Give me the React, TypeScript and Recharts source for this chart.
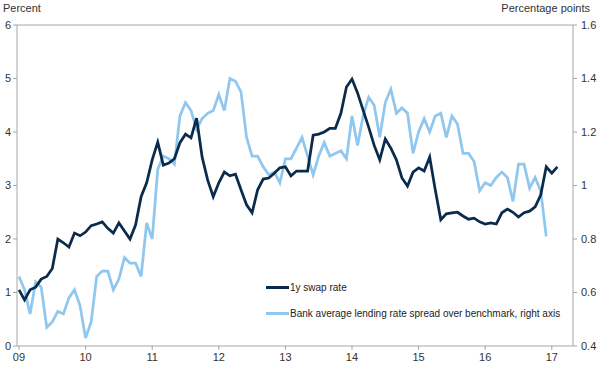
import { LineChart, Line, XAxis, YAxis, ReferenceLine } from 'recharts';

// monthly, Jan 2009 onwards
const yearTicks = [0, 12, 24, 36, 48, 60, 72, 84, 96];
const yearLabels = ['09', '10', '11', '12', '13', '14', '15', '16', '17'];

const leftTicks = [0, 1, 2, 3, 4, 5, 6];
const rightTicks = [0.4, 0.6, 0.8, 1.0, 1.2, 1.4, 1.6];

// 1y swap rate, percent (left axis)
const swapRate = [
  1.05, 0.86, 1.05, 1.1, 1.25, 1.3, 1.45, 2.0, 1.93, 1.85,
  2.11, 2.06, 2.13, 2.25, 2.28, 2.32, 2.2, 2.11, 2.3, 2.15,
  2.0, 2.26, 2.79, 3.05, 3.48, 3.81, 3.38, 3.42, 3.5, 3.8,
  3.96, 3.89, 4.26, 3.53, 3.1, 2.79, 3.05, 3.25, 3.18, 3.21,
  2.92, 2.64, 2.49, 2.92, 3.12, 3.14, 3.23, 3.33, 3.35, 3.18,
  3.27, 3.27, 3.27, 3.94, 3.96, 4.0, 4.07, 4.07, 4.35, 4.84,
  4.99, 4.73, 4.41, 4.09, 3.75, 3.48, 3.87, 3.7, 3.48, 3.14,
  2.99, 3.25, 3.33, 3.27, 3.53, 2.92, 2.36, 2.47, 2.49, 2.5,
  2.43, 2.37, 2.39, 2.32, 2.28, 2.3, 2.28, 2.49, 2.56, 2.5,
  2.41, 2.49, 2.52, 2.6, 2.82, 3.35, 3.23, 3.35,
];

// lending rate spread over benchmark, percentage points (right axis)
const lendingSpread = [
  0.66, 0.61, 0.52, 0.64, 0.62, 0.47, 0.49, 0.53, 0.52, 0.58,
  0.61, 0.55, 0.43, 0.49, 0.66, 0.68, 0.68, 0.61, 0.65, 0.73,
  0.71, 0.71, 0.66, 0.86, 0.8, 1.06, 1.11, 1.1, 1.08, 1.26,
  1.31, 1.28, 1.21, 1.25, 1.27, 1.28, 1.34, 1.28, 1.4, 1.39,
  1.35, 1.18, 1.11, 1.11, 1.07, 1.04, 1.05, 1.01, 1.1, 1.1,
  1.14, 1.18, 1.11, 1.04, 1.11, 1.16, 1.11, 1.12, 1.13, 1.1,
  1.26, 1.15, 1.26, 1.33, 1.3, 1.18, 1.31, 1.36, 1.27, 1.29,
  1.27, 1.12, 1.2, 1.25, 1.2, 1.26, 1.27, 1.18, 1.26, 1.23,
  1.12, 1.12, 1.09, 0.98, 1.01, 1.0, 1.03, 1.05, 1.03, 0.94,
  1.08, 1.08, 0.99, 1.03, 0.98, 0.81,
];

const swapLabel = '1y swap rate';
const spreadLabel = 'Bank average lending rate spread over benchmark, right axis';

const DARK = '#0b2b4c';
const LIGHT = '#8fc7ef';
const AXIS = '#a6a6a6';
const TEXT = '#333333';
const FONT = '"Liberation Sans", Arial, sans-serif';

const chartData = swapRate.map((v, i) => ({
  m: i,
  swap: v,
  spread: lendingSpread[i] ?? null,
}));

const tickStyle = { fontSize: 11, fill: TEXT, fontFamily: FONT };

export default function App() {
  return (
    <div
      style={{
        position: 'absolute',
        left: 0,
        top: 0,
        width: 600,
        height: 370,
        background: '#fff',
        fontFamily: FONT,
      }}
    >
      <LineChart
        width={600}
        height={370}
        data={chartData}
        margin={{ top: 25, right: 0, bottom: 0, left: 0 }}
      >
        <XAxis
          dataKey="m"
          type="number"
          domain={[-0.36, 99.82]}
          ticks={yearTicks}
          tickFormatter={(v: number) => yearLabels[yearTicks.indexOf(v)] ?? ''}
          tick={tickStyle}
          tickSize={4}
          tickMargin={3}
          stroke={AXIS}
          height={24}
          allowDataOverflow
        />
        <YAxis
          yAxisId="left"
          domain={[0, 6]}
          ticks={leftTicks}
          tick={tickStyle}
          tickSize={4}
          tickMargin={2}
          stroke={AXIS}
          width={17}
        />
        <YAxis
          yAxisId="right"
          orientation="right"
          domain={[0.4, 1.6]}
          ticks={rightTicks}
          tickFormatter={(v: number) => String(+v.toFixed(1))}
          tick={tickStyle}
          tickSize={4}
          tickMargin={4}
          stroke={AXIS}
          width={27}
        />
        <ReferenceLine yAxisId="left" y={6} stroke={AXIS} strokeWidth={1} />
        <Line
          yAxisId="right"
          dataKey="spread"
          stroke={LIGHT}
          strokeWidth={2.75}
          dot={false}
          type="linear"
          isAnimationActive={false}
        />
        <Line
          yAxisId="left"
          dataKey="swap"
          stroke={DARK}
          strokeWidth={2.75}
          dot={false}
          type="linear"
          isAnimationActive={false}
        />
      </LineChart>

      <div style={{ position: 'absolute', left: 3, top: 2, fontSize: 11, color: TEXT }}>Percent</div>
      <div style={{ position: 'absolute', right: 10, top: 2, fontSize: 11, color: TEXT }}>
        Percentage points
      </div>

      <div style={{ position: 'absolute', left: 266, top: 280, fontSize: 10, color: '#222' }}>
        {[
          { label: swapLabel, color: DARK },
          { label: spreadLabel, color: LIGHT },
        ].map((item) => (
          <div key={item.label} style={{ display: 'flex', alignItems: 'center', height: 14, marginBottom: 12 }}>
            <span style={{ display: 'inline-block', width: 23, height: 3, background: item.color, marginRight: 1 }} />
            <span style={{ whiteSpace: 'nowrap' }}>{item.label}</span>
          </div>
        ))}
      </div>
    </div>
  );
}
